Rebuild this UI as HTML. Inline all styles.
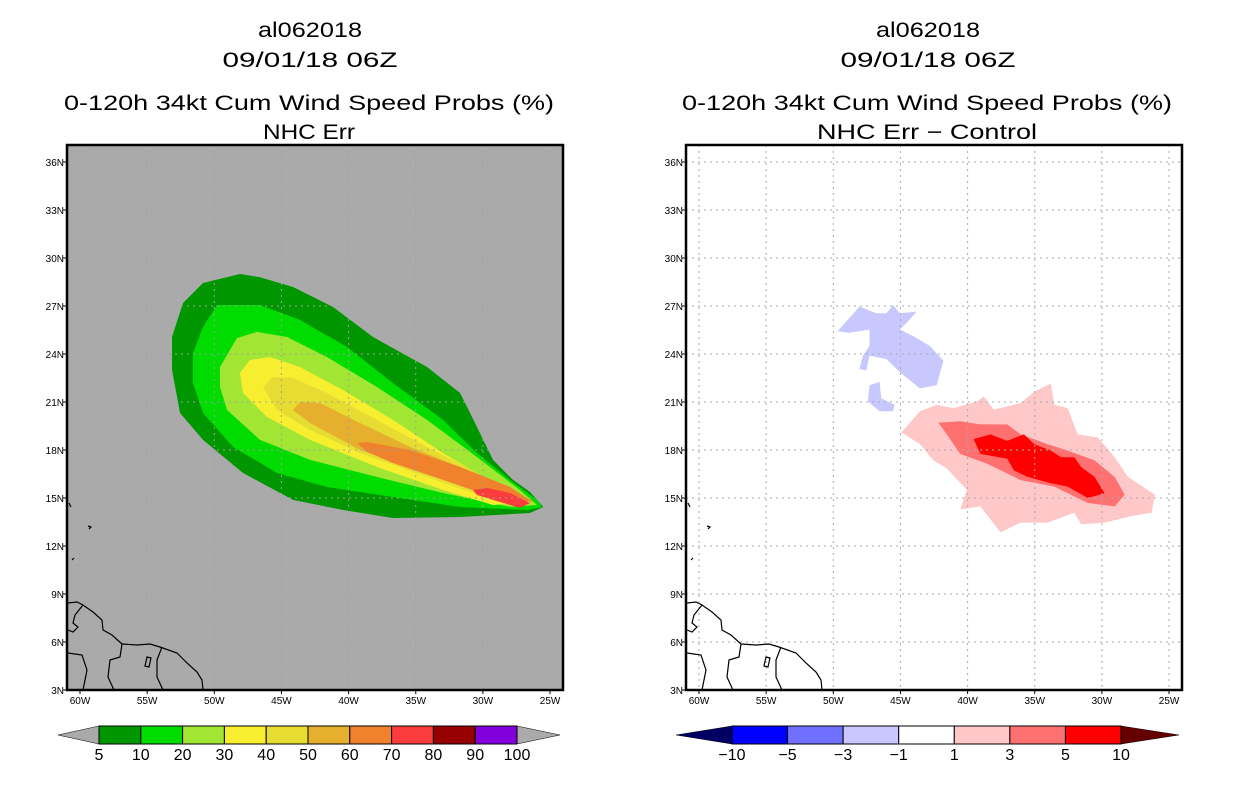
<!DOCTYPE html>
<html><head><meta charset="utf-8"><style>
body{margin:0;background:#fff;width:1236px;height:800px;overflow:hidden}
svg{display:block;font-family:"Liberation Sans",sans-serif}
</style></head><body>
<svg id="s" width="1236" height="800" viewBox="0 0 1236 800">
<g font-size="21" text-anchor="middle" fill="#000" lengthAdjust="spacingAndGlyphs">
<text x="310" y="37" textLength="104" lengthAdjust="spacingAndGlyphs">al062018</text>
<text x="310" y="67" textLength="175" lengthAdjust="spacingAndGlyphs">09/01/18 06Z</text>
<text x="309" y="110" textLength="490" lengthAdjust="spacingAndGlyphs">0-120h 34kt Cum Wind Speed Probs (%)</text>
<text x="309" y="139" textLength="92" lengthAdjust="spacingAndGlyphs">NHC Err</text>
</g>
<g font-size="21" text-anchor="middle" fill="#000">
<text x="928" y="37" textLength="104" lengthAdjust="spacingAndGlyphs">al062018</text>
<text x="928" y="67" textLength="175" lengthAdjust="spacingAndGlyphs">09/01/18 06Z</text>
<text x="927" y="110" textLength="490" lengthAdjust="spacingAndGlyphs">0-120h 34kt Cum Wind Speed Probs (%)</text>
<text x="927" y="139" textLength="220" lengthAdjust="spacingAndGlyphs">NHC Err − Control</text>
</g>
<g id="L"></g>
<g id="R"></g>
<g id="CB"></g>
</svg>
<script>
const NS="http://www.w3.org/2000/svg";
const latTicks=[3,6,9,12,15,18,21,24,27,30,33,36];
const lonTicks=[60,55,50,45,40,35,30,25];
const probLevels=["5","10","20","30","40","50","60","70","80","90","100"];
const probColors=["#009600","#00dc00","#a0e632","#f8ee30","#e6dc32","#e6af2d","#f0822d","#fa3c3c","#960000","#8200dc"];
const diffLevels=["−10","−5","−3","−1","1","3","5","10"];
const diffColors=["#0000ff","#7070ff","#c8c8ff","#ffffff","#ffc8c8","#ff7070","#ff0000"];
const p5=[[-53.15,25.06],[-52.33,27.19],[-50.84,28.44],[-48.09,29.0],[-46.6,28.8],[-44.14,28.19],[-41.16,26.94],[-38.18,25.06],[-34.16,23.19],[-31.7,21.56],[-30.44,19.44],[-29.25,17.38],[-27.76,16.13],[-26.5,15.38],[-25.5,14.44],[-26.5,14.06],[-31.7,13.81],[-36.7,13.75],[-40.4,14.25],[-44.14,14.88],[-47.86,16.56],[-50.84,18.63],[-52.55,20.31],[-53.15,23.0]];
const p10=[[-51.59,24.06],[-50.84,25.69],[-49.8,27.06],[-46.6,27.06],[-43.62,26.13],[-40.12,24.44],[-36.7,22.19],[-32.97,19.88],[-30.44,17.81],[-27.98,16.13],[-25.97,14.88],[-25.6,14.44],[-26.72,14.25],[-31.7,14.44],[-36.7,15.06],[-41.6,15.69],[-45.33,16.56],[-48.6,18.19],[-50.84,20.31],[-51.59,22.19]];
const p20=[[-49.58,23.19],[-48.31,25.0],[-46.82,25.38],[-44.59,25.06],[-41.61,23.81],[-37.89,21.94],[-34.16,19.88],[-30.44,17.56],[-27.24,15.5],[-25.97,14.56],[-27.98,14.44],[-32.97,15.31],[-37.89,16.31],[-42.87,17.38],[-46.6,18.63],[-49.05,20.5],[-49.58,21.94]];
const p30=[[-48.09,22.81],[-47.34,23.63],[-45.85,23.81],[-43.62,23.19],[-40.42,21.75],[-36.7,19.88],[-32.97,17.81],[-29.25,15.94],[-26.5,14.75],[-29.25,14.56],[-32.97,15.5],[-37.89,16.94],[-42.87,18.63],[-46.08,20.06],[-47.86,21.56]];
const p40=[[-46.37,21.94],[-45.63,22.56],[-44.14,22.5],[-41.61,21.56],[-37.89,19.88],[-34.16,18.19],[-30.44,16.56],[-26.72,14.88],[-29.25,14.88],[-34.16,16.31],[-39.15,17.81],[-42.87,19.25],[-45.33,20.5]];
const p50=[[-44.14,20.5],[-43.62,21.0],[-42.13,20.94],[-39.15,19.69],[-35.43,18.19],[-31.7,16.94],[-27.98,15.5],[-26.5,14.69],[-29.25,15.0],[-34.16,16.56],[-39.15,18.0],[-42.87,19.69]];
const p60=[[-39.37,18.44],[-38.63,18.5],[-35.43,18.0],[-31.7,16.94],[-27.98,15.69],[-26.27,14.75],[-29.25,15.06],[-32.97,16.13],[-36.7,17.19],[-38.63,17.88]];
const p70=[[-30.74,15.5],[-29.7,15.63],[-27.98,15.31],[-26.5,14.69],[-27.24,14.38],[-29.25,14.88],[-30.44,15.19]];
const dPos1=[[-44.93,19.09],[-43.55,20.42],[-42.3,20.82],[-41.05,20.62],[-39.3,21.03],[-38.8,21.34],[-38.05,20.52],[-36.05,20.93],[-35.05,21.64],[-33.8,22.15],[-33.55,20.82],[-32.55,20.62],[-31.8,18.98],[-30.3,18.78],[-29.05,17.55],[-28.05,16.32],[-26.05,15.2],[-26.3,14.08],[-27.8,13.87],[-29.8,13.46],[-31.55,13.36],[-32.05,14.08],[-34.05,13.46],[-36.05,13.46],[-37.55,12.85],[-39.05,14.48],[-40.55,14.28],[-40.05,15.51],[-41.55,16.84],[-42.55,17.35],[-43.55,18.37]];
const dPos3=[[-42.18,19.7],[-40.55,19.8],[-39.05,19.6],[-37.05,19.6],[-36.05,18.98],[-34.05,18.37],[-32.55,17.96],[-30.55,17.35],[-29.05,16.32],[-28.3,15.2],[-29.05,14.48],[-31.05,14.69],[-33.55,15.71],[-36.05,16.12],[-38.55,17.14],[-40.55,17.76],[-41.55,18.98]];
const dPos5=[[-39.55,18.68],[-38.3,18.98],[-37.05,18.57],[-35.8,18.98],[-35.05,18.37],[-33.8,17.96],[-33.05,17.55],[-32.05,17.55],[-31.55,16.94],[-30.55,16.32],[-29.8,15.3],[-31.05,15.0],[-32.55,15.71],[-33.8,15.92],[-35.55,16.32],[-36.55,16.73],[-37.05,17.45],[-39.05,17.76]];
const dNegA=[[-49.68,25.43],[-48.05,26.96],[-46.8,26.55],[-46.05,26.55],[-45.55,27.06],[-45.05,26.55],[-43.8,26.65],[-44.55,25.94],[-45.05,25.53],[-44.05,25.12],[-42.8,24.5],[-41.8,23.58],[-42.3,22.05],[-43.55,21.85],[-45.05,22.87],[-46.05,23.69],[-47.3,23.89],[-47.55,22.97],[-48.05,23.07],[-47.8,23.89],[-47.3,24.51],[-47.3,25.53],[-48.8,25.32]];
const dNegB=[[-47.3,22.05],[-46.55,22.26],[-46.43,21.23],[-45.43,20.82],[-45.55,20.42],[-46.55,20.42],[-47.43,21.03]];

function mk(tag,attrs,parent){const e=document.createElementNS(NS,tag);for(const k in attrs)e.setAttribute(k,attrs[k]);parent.appendChild(e);return e;}
function panel(g,ox,bg,grid,polys,name){
  const x=lon=>ox+80+(lon+60)*13.43;
  const y=lat=>162+(36-lat)*16;
  const fx0=ox+67,fx1=ox+563,fy0=145,fy1=690;
  const r=mk('rect',{x:fx0,y:fy0,width:fx1-fx0,height:fy1-fy0,fill:bg},g);
  
  
  polys.forEach(([pts,col,nm])=>{
    const p=mk('polygon',{points:pts.map(q=>x(q[0])+','+y(q[1])).join(' '),fill:col},g);
    
    
  });
  latTicks.forEach(t=>{
    if(t>3){const l=mk('line',{x1:fx0,x2:fx1,y1:y(t),y2:y(t),stroke:grid,'stroke-dasharray':'2,4'},g);
    }
    mk('line',{x1:fx0-4,x2:fx0,y1:y(t),y2:y(t),stroke:'#000'},g);
    const tx=mk('text',{x:fx0-3,y:y(t)+4,'font-size':'10','text-anchor':'end'},g);
    tx.textContent=t+'N';
    
    
  });
  lonTicks.forEach(t=>{
    const l=mk('line',{x1:x(-t),x2:x(-t),y1:fy0,y2:fy1,stroke:grid,'stroke-dasharray':'2,4'},g);
    
    mk('line',{x1:x(-t),x2:x(-t),y1:fy1,y2:fy1+4,stroke:'#000'},g);
    const tx=mk('text',{x:x(-t),y:fy1+14,'font-size':'10','text-anchor':'middle'},g);
    tx.textContent=t+'W';
    
    
  });
  const c=mk('g',{transform:'translate('+ox+',0)',fill:'none',stroke:'#000','stroke-width':'1.2'},g);
  
  
  ['M68,603 L77,602 L83,605 L93,612 L102,620 L103,630 L112,635 L122,644 L137,645 L150,644 L160,647 L177,653 L187,663 L197,672 L202,680 L203,690',
   'M83,605 L75,615 L73,623 L78,627 L73,632 L68,630',
   'M122,644 L120,657 L110,660 L108,677 L114,690',
   'M162,647 L157,660 L157,677 L163,690',
   'M68,653 L82,655 L87,670 L83,690',
   'M147,657 L151,658 L149,667 L145,666 Z',
   'M88,526 L91,527 L89,529','M69,503 L71,507','M72,560 L74,558'].forEach(d=>mk('path',{d:d},c));
  mk('rect',{x:fx0,y:fy0,width:fx1-fx0,height:fy1-fy0,fill:'none',stroke:'#000','stroke-width':'2.5'},g);
}
panel(document.getElementById('L'),0,'#aaaaaa','#a0a0a0',[
 [p5,probColors[0],'prob-5'],[p10,probColors[1],'prob-10'],[p20,probColors[2],'prob-20'],[p30,probColors[3],'prob-30'],
 [p40,probColors[4],'prob-40'],[p50,probColors[5],'prob-50'],[p60,probColors[6],'prob-60'],[p70,probColors[7],'prob-70']],'left');
panel(document.getElementById('R'),619,'#ffffff','#aaaaaa',[
 [dNegA,diffColors[2],'diff-neg-1'],[dNegB,diffColors[2],'diff-neg-1b'],
 [dPos1,diffColors[4],'diff-pos-1'],[dPos3,diffColors[5],'diff-pos-3'],[dPos5,diffColors[6],'diff-pos-5']],'right');

function colorbar(g,x0,x1,tipL,tipR,colors,labels,leftTip,rightTip,name){
  const y0=726,y1=744,w=(x1-x0)/colors.length;
  const a=mk('polygon',{points:`${x0},${y0} ${tipL},${(y0+y1)/2} ${x0},${y1}`,fill:leftTip,stroke:'#000','stroke-width':'0.5'},g);
  
  const b=mk('polygon',{points:`${x1},${y0} ${tipR},${(y0+y1)/2} ${x1},${y1}`,fill:rightTip,stroke:'#000','stroke-width':'0.5'},g);
  
  colors.forEach((c,i)=>{
    const r=mk('rect',{x:x0+i*w,y:y0,width:w,height:y1-y0,fill:c,stroke:'#000','stroke-width':'1'},g);
    
  });
  labels.forEach((t,i)=>{
    const tx=mk('text',{x:x0+i*w,y:y1+16,'font-size':'16','text-anchor':'middle'},g);
    tx.textContent=t;
    
    
  });
}
const cb=document.getElementById('CB');
colorbar(cb,99,517,58,560,probColors,probLevels,'#aaaaaa','#aaaaaa','prob-colorbar');
colorbar(cb,732,1121,676,1179,diffColors,diffLevels,'#000064','#640000','diff-colorbar');
</script>
</body></html>
